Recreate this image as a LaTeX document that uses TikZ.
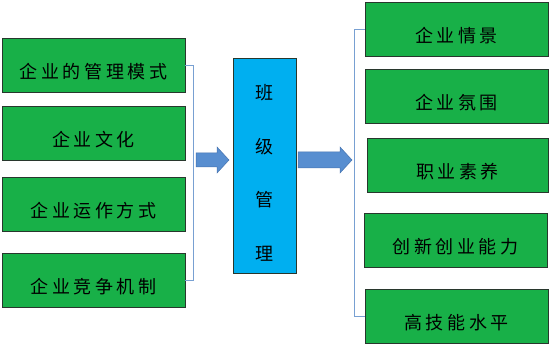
\documentclass[tikz,border=0pt]{standalone}
\usepackage{fontspec}
\newfontfamily\cjk[LetterSpace=20]{Noto Sans CJK SC}
\newfontfamily\cjkplain{Noto Sans CJK SC}
\definecolor{boxgreen}{RGB}{24,176,72}
\definecolor{boxline}{RGB}{40,55,45}
\definecolor{midblue}{RGB}{0,175,240}
\definecolor{arrowblue}{RGB}{88,142,208}
\definecolor{arrowline}{RGB}{70,115,175}
\definecolor{brack}{RGB}{120,160,210}
\begin{document}
\begin{tikzpicture}[x=1pt,y=-1pt,
  gbox/.style={draw=boxline,line width=0.8pt,fill=boxgreen,minimum width=183pt,minimum height=54pt,inner sep=0pt,
    text height=27pt,text depth=0pt,
    font=\cjk\fontsize{18}{20}\selectfont},
  cbox/.style={draw=boxline,line width=0.8pt,fill=midblue,minimum width=63pt,minimum height=215pt,inner sep=0pt},
  blockarrow/.style={fill=arrowblue,draw=arrowline,line width=0.5pt},
  bracketline/.style={draw=brack,line width=0.9pt}]
\useasboundingbox (0,0) rectangle (550,344);
% left boxes
\node[gbox] (l1) at (93.5,65) {企业的管理模式};
\node[gbox] (l2) at (93.5,133.5) {企业文化};
\node[gbox] (l3) at (93.5,204) {企业运作方式};
\node[gbox] (l4) at (93.5,280) {企业竞争机制};
% center
\node[cbox] (c) at (264.5,165.5) {};
\node[font=\cjkplain\fontsize{18}{53.5}\selectfont,align=center,inner sep=0pt] (ct) at (264.5,173) {班\\级\\管\\理};
% right boxes
\node[gbox] (r1) at (456.5,29) {企业情景};
\node[gbox] (r2) at (456.5,96) {企业氛围};
\node[gbox,minimum width=181pt] (r3) at (457.5,165) {职业素养};
\node[gbox] (r4) at (455.5,240) {创新创业能力};
\node[gbox] (r5) at (456.5,316.5) {高技能水平};
% brackets
\draw[bracketline] (l1.east) -- ++(8,0) |- (l4.east);
\draw[bracketline] (r1.west) -- ++(-10,0) |- (r5.west);
% arrows
\coordinate (a1) at (196,160);
\coordinate (a2) at (298,160);
\draw[blockarrow] (a1) ++(0,-7) -- ++(21,0) -- ++(0,-6) -- (229,160) -- (217,173) -- ++(0,-6) -- ++(-21,0) -- cycle;
\draw[blockarrow] (a2) ++(0,-8) -- ++(42,0) -- ++(0,-5) -- (352,160) -- (340,173) -- ++(0,-5) -- ++(-42,0) -- cycle;
\end{tikzpicture}
\end{document}
